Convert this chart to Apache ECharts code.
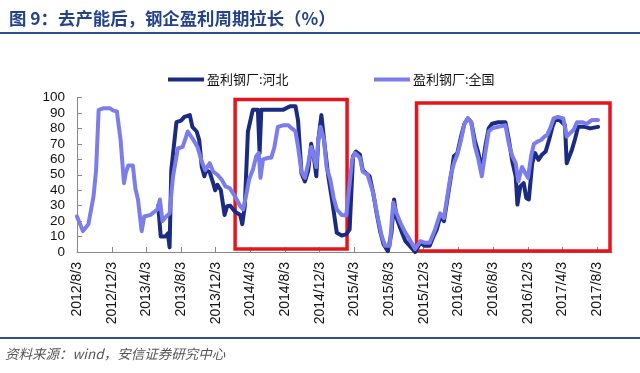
<!DOCTYPE html>
<html><head><meta charset="utf-8">
<script src="https://cdn.jsdelivr.net/npm/echarts@6/dist/echarts.min.js"></script>
<style>html,body{margin:0;padding:0;background:#fff}#c{width:640px;height:373px}</style>
</head><body><div id="c"></div>
<script>
// ---- data ----
const hebeiDates = ['2013/5/15','2013/5/24','2013/6/9','2013/6/18','2013/6/24','2013/6/30','2013/7/18','2013/8/3','2013/8/15','2013/9/3','2013/9/12','2013/9/27','2013/10/6','2013/10/15','2013/10/24','2013/10/30','2013/11/12','2013/11/24','2013/12/1','2013/12/9','2013/12/21','2014/1/3','2014/1/12','2014/1/23','2014/2/9','2014/2/27','2014/3/6','2014/3/15','2014/3/26','2014/4/12','2014/4/30','2014/5/6','2014/5/12','2014/6/12','2014/7/27','2014/8/21','2014/9/9','2014/9/18','2014/9/30','2014/10/12','2014/10/24','2014/11/3','2014/11/12','2014/11/21','2014/11/28','2014/12/9','2014/12/21','2015/1/2','2015/1/15','2015/2/1','2015/2/18','2015/3/6','2015/3/18','2015/3/30','2015/4/9','2015/4/23','2015/5/3','2015/5/15','2015/5/27','2015/6/9','2015/6/21','2015/7/3','2015/7/15','2015/7/30','2015/8/12','2015/8/21','2015/8/30','2015/9/18','2015/9/30','2015/10/15','2015/11/3','2015/11/21','2015/12/6','2015/12/24','2016/1/6','2016/1/18','2016/1/30','2016/2/12','2016/2/24','2016/3/6','2016/3/18','2016/3/30','2016/4/12','2016/4/24','2016/5/6','2016/5/18','2016/5/30','2016/6/12','2016/6/24','2016/7/6','2016/7/18','2016/7/30','2016/8/21','2016/9/15','2016/9/27','2016/10/9','2016/10/21','2016/10/27','2016/11/6','2016/11/18','2016/11/27','2016/12/6','2016/12/18','2016/12/28','2017/1/9','2017/1/21','2017/2/3','2017/2/15','2017/2/27','2017/3/8','2017/3/24','2017/4/12','2017/4/18','2017/5/6','2017/5/18','2017/5/28','2017/6/21','2017/7/9','2017/8/6'];
const hebeiValues = [30,10,10,12,3,53,84,85,87.5,88.6,81,78,72.5,55,49,53,51.6,44.6,40,43.5,40,24,29.6,30,26,24,18,29.6,78,92,92,64,92,92,92,94.4,94.4,85,51,45.7,53,70,62,49,72.5,88.6,68,49,34,12.4,10.7,11.4,14.6,62,65,63,53,51,49,38,25,13.5,5,0.6,12.4,34,22,12.4,7,4,0,6,4,4,10,14.6,23,20,34,47,62,64,74.7,83,86.5,84,72.5,64,53,68,80,83,84,84,72.5,58.6,49,30.7,42.5,44.6,35,34,57.5,64,59.7,63,65,72.5,81,85.4,85.4,82,57.5,66,73.6,81,81,80,81];
const quanguoDates = ['2012/8/3','2012/8/24','2012/9/12','2012/9/30','2012/10/9','2012/10/18','2012/11/3','2012/11/27','2012/12/9','2012/12/21','2013/1/3','2013/1/15','2013/1/21','2013/1/30','2013/2/15','2013/2/24','2013/3/5','2013/3/18','2013/3/27','2013/4/18','2013/5/12','2013/5/21','2013/5/30','2013/6/12','2013/6/24','2013/7/6','2013/7/23','2013/8/9','2013/8/27','2013/9/12','2013/9/30','2013/10/15','2013/10/27','2013/11/12','2013/11/24','2013/12/9','2013/12/24','2014/1/6','2014/1/21','2014/2/9','2014/2/27','2014/3/9','2014/3/21','2014/3/30','2014/4/12','2014/4/24','2014/5/3','2014/5/9','2014/5/18','2014/6/6','2014/6/16','2014/6/27','2014/7/9','2014/7/27','2014/8/15','2014/8/27','2014/9/9','2014/9/18','2014/9/30','2014/10/12','2014/10/24','2014/11/3','2014/11/12','2014/11/21','2014/11/28','2014/12/6','2014/12/18','2014/12/27','2015/1/9','2015/1/21','2015/2/1','2015/2/18','2015/3/6','2015/3/27','2015/4/6','2015/4/23','2015/5/3','2015/5/20','2015/6/9','2015/6/24','2015/7/9','2015/7/21','2015/8/6','2015/8/18','2015/8/30','2015/9/12','2015/9/30','2015/10/15','2015/11/3','2015/11/21','2015/12/6','2015/12/24','2016/1/12','2016/1/30','2016/2/12','2016/2/24','2016/3/6','2016/3/18','2016/3/30','2016/4/12','2016/4/24','2016/5/6','2016/5/18','2016/5/30','2016/6/12','2016/6/24','2016/7/6','2016/7/18','2016/7/30','2016/8/21','2016/9/15','2016/9/27','2016/10/9','2016/10/21','2016/10/30','2016/11/12','2016/11/21','2016/12/3','2016/12/15','2016/12/24','2017/1/6','2017/1/18','2017/1/30','2017/2/9','2017/2/21','2017/3/3','2017/3/18','2017/4/6','2017/4/18','2017/4/30','2017/5/12','2017/5/24','2017/6/12','2017/6/27','2017/7/15','2017/8/6'];
const quanguoValues = [23,13.5,18,36,53,92,93,93,91.5,91,72.5,44.6,51,56,56,41,34,13.5,23,24,27.5,34,20,23,25,49,67,68,78,73.6,68,58.6,53,57.5,52,50,46.8,42.5,41.4,36,29.6,27.5,38,47,53,62,64,48,60,61,61,68,81,82,82,80,78,68,52,48,57.5,68,62,55,72.5,81,72.5,55,47,35,27.5,24,23.6,60,64,61,52,50,38,23,10,4,4,32,25,19,12.4,8,2,7,6,6,14.6,25,22,36,49,57.5,63,72.5,83,86.5,84,69,60,49,64,78,80,81,82,70,62,57.5,45.7,55,52,48,63,70,71.5,72.5,74.7,76,81,86.5,87.5,86.5,74.7,77,79,84,84,83,85.4,85.4];
const tickDates = ['2012/8/3','2012/12/3','2013/4/3','2013/8/3','2013/12/3','2014/4/3','2014/8/3','2014/12/3','2015/4/3','2015/8/3','2015/12/3','2016/4/3','2016/8/3','2016/12/3','2017/4/3','2017/8/3'];
const highlightBoxes = [
  {from: '2014/2/9', to: '2015/3/9', low: 2, high: 98.7},
  {from: '2015/11/8', to: '2017/9/17', low: 0.7, high: 96.5}
];
const axisStart = '2012/8/3', axisEnd = '2017/9/24';

function ts(s){const p=s.split('/').map(Number);return Date.UTC(p[0],p[1]-1,p[2]);}
function pairs(d,v){return d.map((x,i)=>[ts(x),v[i]]);}
function fmt(t){const d=new Date(t);return d.getUTCFullYear()+'/'+(d.getUTCMonth()+1)+'/'+d.getUTCDate();}

const chart = echarts.init(document.getElementById('c'), null, {renderer:'canvas'});
const cjk = '"Noto Sans CJK SC", "Noto Sans", sans-serif';
const num = '"Liberation Sans", Arial, sans-serif';
chart.setOption({
  animation:false,
  backgroundColor:'#fff',
  title:{text:'图 9：去产能后，钢企盈利周期拉长（%）', left:4, top:5,
    textStyle:{fontFamily:cjk, fontSize:17.4, fontWeight:'bold', color:'#24418C'}},
  legend:[
    {data:['盈利钢厂:河北'], left:163, top:68, itemWidth:36, itemHeight:4, icon:'rect', itemGap:4,
      textStyle:{fontFamily:cjk, fontSize:13, color:'#111', padding:[0,0,0,-2]}},
    {data:['盈利钢厂:全国'], left:369, top:68, itemWidth:36, itemHeight:4, icon:'rect', itemGap:4,
      textStyle:{fontFamily:cjk, fontSize:13, color:'#111', padding:[0,0,0,-2]}}
  ],
  grid:{left:77, right:28, top:97.5, bottom:121, containLabel:false},
  xAxis:{type:'value', min:ts(axisStart), max:ts(axisEnd),
    axisLine:{lineStyle:{color:'#888', width:1}},
    axisTick:{inside:true, length:5, lineStyle:{color:'#888'}, customValues:tickDates.map(ts)},
    axisLabel:{customValues:tickDates.map(ts), rotate:90, margin:10, formatter:(v)=>fmt(v),
      fontFamily:num, fontSize:14, color:'#111', hideOverlap:false},
    splitLine:{show:false}},
  yAxis:{type:'value', min:0, max:100, interval:10,
    axisLine:{show:true, lineStyle:{color:'#888', width:1}},
    axisTick:{show:true, inside:true, length:5, lineStyle:{color:'#888'}},
    axisLabel:{fontFamily:num, fontSize:13.5, color:'#111', margin:12},
    splitLine:{show:false}},
  series:[
    {name:'盈利钢厂:河北', type:'line', data:pairs(hebeiDates,hebeiValues), symbol:'none',
      lineStyle:{color:'#1B2B82', width:4, join:'round', cap:'round'}, itemStyle:{color:'#1B2B82'}, z:2},
    {name:'盈利钢厂:全国', type:'line', data:pairs(quanguoDates,quanguoValues), symbol:'none',
      lineStyle:{color:'#7B7DEB', width:4, join:'round', cap:'round'}, itemStyle:{color:'#7B7DEB'}, z:3,
      markArea:{silent:true, itemStyle:{color:'rgba(0,0,0,0)', borderColor:'#E8141B', borderWidth:3.5},
        data:highlightBoxes.map(b=>[{xAxis:ts(b.from), yAxis:b.low},{xAxis:ts(b.to), yAxis:b.high}])}}
  ],
  graphic:[
    {type:'line', shape:{x1:0,y1:33,x2:640,y2:33}, style:{stroke:'#2E4E94', lineWidth:2}},
    {type:'line', shape:{x1:0,y1:338,x2:640,y2:338}, style:{stroke:'#2E4E94', lineWidth:2}},
    {type:'text', left:5, top:347, style:{text:'资料来源：wind，安信证券研究中心', fontFamily:cjk, fontSize:13.5, fontStyle:'italic', fill:'#555'}}
  ]
});
</script></body></html>
